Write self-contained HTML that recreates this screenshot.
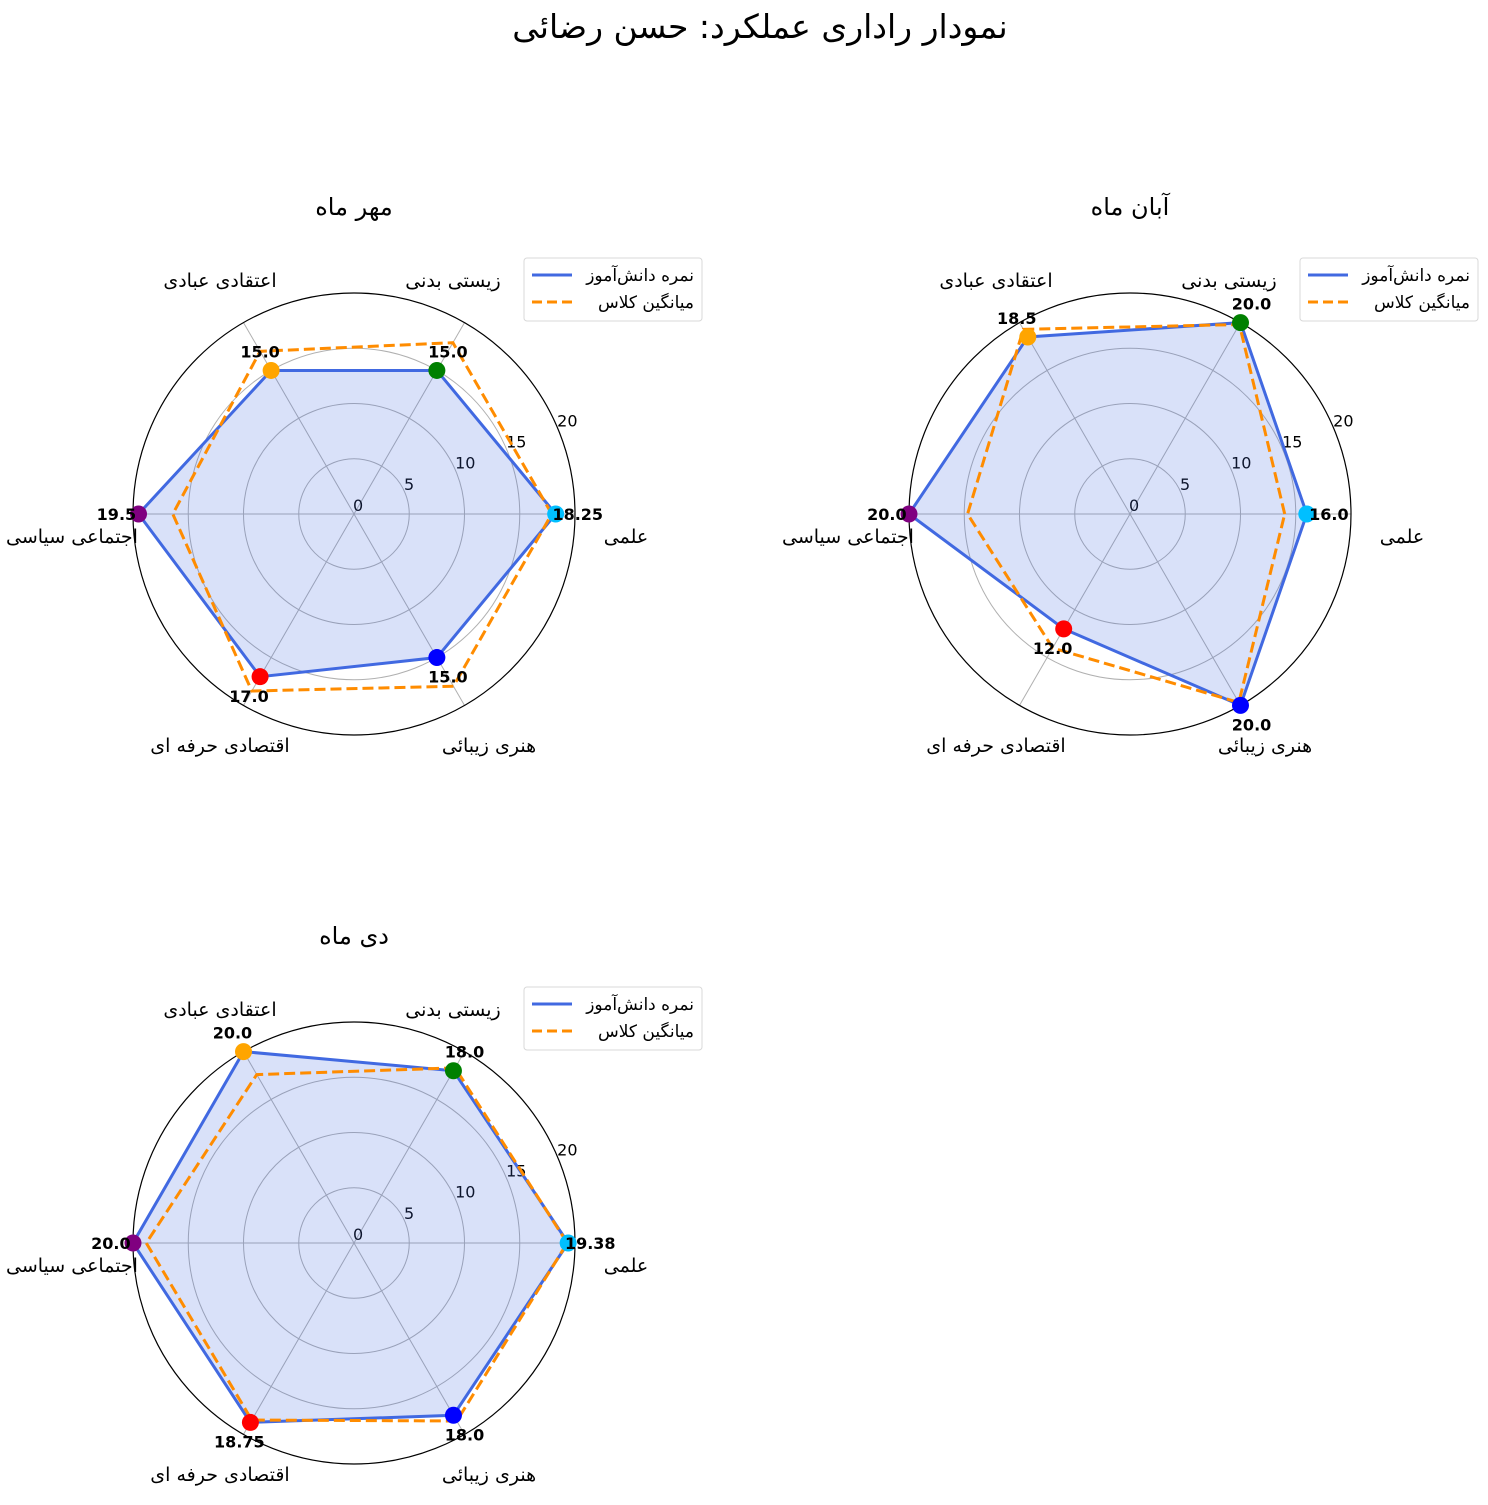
<!DOCTYPE html>
<html><head><meta charset="utf-8"><style>
html,body{margin:0;padding:0;background:#fff;}
svg text{font-family:"DejaVu Sans","Liberation Sans","Noto Sans CJK SC",sans-serif;}
</style></head><body>
<svg id="root" width="1488" height="1500" xmlns="http://www.w3.org/2000/svg">
<text x="760" y="38" font-size="33" text-anchor="middle" direction="rtl">نمودار راداری عملکرد: حسن رضائی</text>
</svg>
<script>
const categories = ["علمی","زیستی بدنی","اعتقادی عبادی","اجتماعی سیاسی","اقتصادی حرفه ای","هنری زیبائی"];
const panelTitles = ["مهر ماه","آبان ماه","دی ماه"];
const studentMehr = [18.25,15,15,19.5,17,15];
const classMehr = [17.9,17.9,17,16.4,18.5,18];
const studentAban = [16,20,18.5,20,12,20];
const classAban = [14,19.8,19.3,14.7,14,19.7];
const studentDey = [19.38,18,20,20,18.75,18];
const classDey = [19.3,18.3,17.6,18.8,18.5,18.6];
const valueLabels = [["18.25","15.0","15.0","19.5","17.0","15.0"],["16.0","20.0","18.5","20.0","12.0","20.0"],["19.38","18.0","20.0","20.0","18.75","18.0"]];
const ringTicks = [0,5,10,15,20];
const legendLabels = ["نمره دانش‌آموز","میانگین کلاس"];
const markerColors = ["#00bfff","green","orange","purple","red","blue"];

const NS="http://www.w3.org/2000/svg";
const root=document.getElementById('root');
function mk(tag,attrs,parent){const e=document.createElementNS(NS,tag);for(const k in attrs)e.setAttribute(k,attrs[k]);(parent||root).appendChild(e);return e;}
const R=221, RMAX=20;
const panels=[{cx:354,cy:514,s:studentMehr,c:classMehr},{cx:1130,cy:514,s:studentAban,c:classAban},{cx:354,cy:1243,s:studentDey,c:classDey}];
const catOff=[[272,23],[99,-233],[-134,-233],[-282,23],[-134,232],[135,232]];
panels.forEach((p,pi)=>{
  const g=mk('g',{});
  
  
  const rs=v=>v/RMAX*R;
  const ang=i=>i*Math.PI*2/categories.length;
  const pt=(i,v)=>[p.cx+rs(v)*Math.cos(ang(i)),p.cy-rs(v)*Math.sin(ang(i))];
  ringTicks.slice(1,-1).forEach(t=>{const c=mk('circle',{cx:p.cx,cy:p.cy,r:rs(t),fill:'none',stroke:'#b0b0b0','stroke-width':1},g);});
  categories.forEach((c,i)=>{const e=pt(i,RMAX);const l=mk('line',{x1:p.cx,y1:p.cy,x2:e[0],y2:e[1],stroke:'#b0b0b0','stroke-width':1},g);});
  const oc=mk('circle',{cx:p.cx,cy:p.cy,r:R,fill:'none',stroke:'#000','stroke-width':1.2},g);
  
  ringTicks.forEach(t=>{const a=22.5*Math.PI/180;const x=p.cx+rs(t)*Math.cos(a),y=p.cy-rs(t)*Math.sin(a);const tx=mk('text',{x:x-1,y:y-3,'font-size':16},g);tx.textContent=t;});
  const sp=p.s.map((v,i)=>pt(i,v).join(',')).join(' ');
  const poly=mk('polygon',{points:sp,fill:'rgba(65,105,225,0.2)',stroke:'#4169e1','stroke-width':3,'stroke-linejoin':'miter'},g);
  
  const cp=p.c.map((v,i)=>pt(i,v).join(',')).join(' ');
  const cpoly=mk('polygon',{points:cp,fill:'none',stroke:'#ff8c00','stroke-width':3,'stroke-dasharray':'11,5'},g);
  
  p.s.forEach((v,i)=>{const q=pt(i,v);const m=mk('circle',{cx:q[0],cy:q[1],r:8.5,fill:markerColors[i]},g);
    const lq=pt(i,v+2);const t=mk('text',{x:lq[0],y:lq[1]+6,'font-size':16,'font-weight':'bold','text-anchor':'middle'},g);t.textContent=valueLabels[pi][i];});
  categories.forEach((c,i)=>{const t=mk('text',{x:p.cx+catOff[i][0],y:p.cy+catOff[i][1]+6,'font-size':19,'text-anchor':'middle',direction:'rtl'},g);t.textContent=c;});
  const tt=mk('text',{x:p.cx,y:p.cy-299,'font-size':24,'text-anchor':'middle',direction:'rtl'},g);tt.textContent=panelTitles[pi];
  
  const lx=p.cx+170, ly=p.cy-256;
  const lg=mk('g',{},g);
  mk('rect',{x:lx,y:ly,width:178,height:63,rx:3,fill:'rgba(255,255,255,0.85)',stroke:'#d8d8d8'},lg);
  mk('line',{x1:lx+8,y1:ly+17,x2:lx+48,y2:ly+17,stroke:'#4169e1','stroke-width':3},lg);
  mk('line',{x1:lx+8,y1:ly+44,x2:lx+48,y2:ly+44,stroke:'#ff8c00','stroke-width':3,'stroke-dasharray':'10,5'},lg);
  legendLabels.forEach((l,k)=>{const t=mk('text',{x:lx+170,y:ly+23+k*27,'font-size':17,'text-anchor':'start',direction:'rtl'},lg);t.textContent=l;});
});
</script>
</body></html>
